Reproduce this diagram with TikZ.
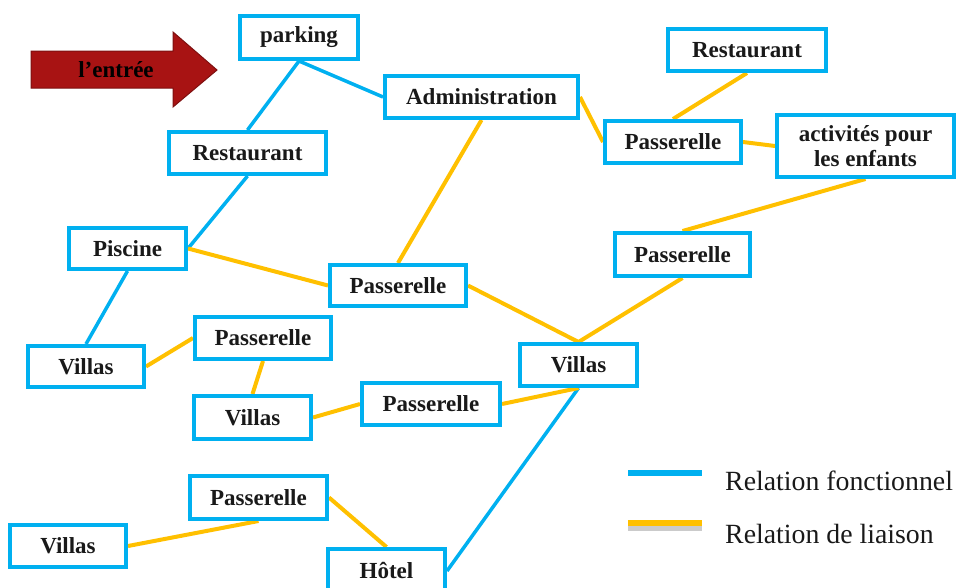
\documentclass[tikz,border=0pt]{standalone}
\usepackage{fontspec}
\setmainfont{Liberation Serif}
\usetikzlibrary{backgrounds}
\definecolor{cblue}{HTML}{00B0F0}
\definecolor{cgold}{HTML}{FFC000}
\definecolor{cred}{HTML}{A81313}
\definecolor{credd}{HTML}{7E1010}
\begin{document}
\begin{tikzpicture}[x=1pt,y=-1pt,
  box/.style={draw=cblue, line width=4pt, fill=white, inner sep=0pt,
    font=\fontsize{23}{25}\selectfont\bfseries, align=center, text=black!90},
  func/.style={draw=cblue, line width=3.5pt},
  liai/.style={draw=cgold, line width=4pt},
  legtext/.style={anchor=base west, inner sep=0pt, font=\fontsize{27.8}{30}\selectfont, text=black!90}
]
\useasboundingbox (0,0) rectangle (958,587);

% entrance arrow
\draw[fill=cred, draw=credd, line width=1pt]
  (31,51) -- (173,51) -- (173,32) -- (217,70) -- (173,107) -- (173,88) -- (31,88) -- cycle;
\node[font=\fontsize{23}{25}\selectfont\bfseries, text=black] (entree) at (116,70) {l’entrée};

% boxes
\node[box, minimum width=118pt, minimum height=43pt] (parking) at (299,37.5) {parking};
\node[box, minimum width=193pt, minimum height=42pt] (admin) at (481.5,97) {Administration};
\node[box, minimum width=158pt, minimum height=42pt] (restR) at (747,50) {Restaurant};
\node[box, minimum width=136pt, minimum height=42pt] (passTR) at (673,142) {Passerelle};
\node[box, minimum width=177pt, minimum height=62pt] (activ) at (865.5,146) {activités pour\\les enfants};
\node[box, minimum width=157pt, minimum height=42pt] (restL) at (247.5,153) {Restaurant};
\node[box, minimum width=117pt, minimum height=41pt] (piscine) at (127.5,248.5) {Piscine};
\node[box, minimum width=136pt, minimum height=41pt] (passC) at (398,285.5) {Passerelle};
\node[box, minimum width=135pt, minimum height=43pt] (passMR) at (682.5,254.5) {Passerelle};
\node[box, minimum width=116pt, minimum height=41pt] (villasL) at (86,366.5) {Villas};
\node[box, minimum width=136pt, minimum height=42pt] (passLM) at (263,338) {Passerelle};
\node[box, minimum width=117pt, minimum height=42pt] (villasC) at (578.5,365) {Villas};
\node[box, minimum width=117pt, minimum height=43pt] (villasM) at (252.5,417.5) {Villas};
\node[box, minimum width=138pt, minimum height=42pt] (passCL) at (431,404) {Passerelle};
\node[box, minimum width=137pt, minimum height=43pt] (passB) at (258.5,497.5) {Passerelle};
\node[box, minimum width=116pt, minimum height=42pt] (villasBL) at (68,546) {Villas};
\node[box, minimum width=117pt, minimum height=44pt, text depth=0pt] (hotel) at (386.5,571) {\raisebox{2pt}{Hôtel}};

% connectors
\begin{scope}[on background layer]
  \draw[func] (parking.south) -- (restL.north);
  \draw[func] (parking.south) -- (admin.west);
  \draw[func] (restL.south) -- (piscine.east);
  \draw[func] (piscine.south) -- (villasL.north);
  \draw[func] (villasC.south) -- (hotel.east);

  \draw[liai] (admin.east) -- (passTR.west);
  \draw[liai] (restR.south) -- (passTR.north);
  \draw[liai] (passTR.east) -- (activ.west);
  \draw[liai] (activ.south) -- (passMR.north);
  \draw[liai] (admin.south) -- (passC.north);
  \draw[liai] (piscine.east) -- (passC.west);
  \draw[liai] (passC.east) -- (villasC.north);
  \draw[liai] (passMR.south) -- (villasC.north);
  \draw[liai] (villasL.east) -- (passLM.west);
  \draw[liai] (passLM.south) -- (villasM.north);
  \draw[liai] (villasM.east) -- (passCL.west);
  \draw[liai] (passCL.east) -- (villasC.south);
  \draw[liai] (villasBL.east) -- (passB.south);
  \draw[liai] (passB.east) -- (hotel.north);
\end{scope}

% legend
\coordinate (lb1) at (628,473);
\coordinate (lb2) at (702,473);
\coordinate (ly1) at (628,523);
\coordinate (ly2) at (702,523);
\draw[cblue, line width=6pt] (lb1) -- (lb2);
\draw[black!45, line width=6pt, opacity=0.45] ([yshift=-5pt]ly1) -- ([yshift=-5pt]ly2);
\draw[cgold, line width=6pt] (ly1) -- (ly2);
\node[legtext] (lg1) at (725,490) {Relation fonctionnel};
\node[legtext] (lg2) at (725,543) {Relation de liaison};
\end{tikzpicture}
\end{document}
